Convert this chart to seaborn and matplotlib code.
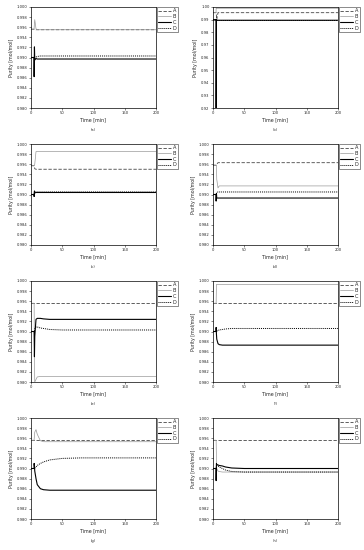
import numpy as np
import pandas as pd
import matplotlib
matplotlib.use("Agg")
import matplotlib.pyplot as plt
import seaborn as sns

# time grid [min] shared by every panel
t = [0, 4.9, 5, 5.5, 6, 8, 10, 15, 20, 30, 50, 80, 200]

# (a)
a_A = [0.9956, 0.9956, 0.9956, 0.9956, 0.9956, 0.9955, 0.9955, 0.9955, 0.9955, 0.9955, 0.9955, 0.9955, 0.9955]
a_B = [0.9956, 0.9956, 0.9958, 0.9968, 0.9975, 0.9957, 0.9955, 0.9955, 0.9955, 0.9955, 0.9955, 0.9955, 0.9955]
a_C = [0.9900, 0.9900, 0.9862, 0.9921, 0.9895, 0.9898, 0.9897, 0.9897, 0.9897, 0.9897, 0.9897, 0.9897, 0.9897]
a_D = [0.9900, 0.9900, 0.9900, 0.9902, 0.9902, 0.9901, 0.9902, 0.9903, 0.9903, 0.9903, 0.9903, 0.9903, 0.9903]
# (b)
b_A = [0.9955, 0.9955, 0.9955, 0.9930, 0.9900, 0.9955, 0.9955, 0.9955, 0.9955, 0.9955, 0.9955, 0.9955, 0.9955]
b_B = [0.9955, 0.9955, 0.9990, 0.9990, 0.9990, 0.9990, 0.9990, 0.9990, 0.9990, 0.9990, 0.9990, 0.9990, 0.9990]
b_C = [0.9900, 0.9900, 0.9200, 0.9900, 0.9895, 0.9895, 0.9895, 0.9895, 0.9895, 0.9895, 0.9895, 0.9895, 0.9895]
b_D = [0.9900, 0.9900, 0.9900, 0.9900, 0.9900, 0.9900, 0.9900, 0.9900, 0.9900, 0.9900, 0.9900, 0.9900, 0.9900]
# (c)
c_A = [0.9957, 0.9957, 0.9957, 0.9955, 0.9951, 0.9950, 0.9950, 0.9950, 0.9950, 0.9950, 0.9950, 0.9950, 0.9950]
c_B = [0.9957, 0.9957, 0.9957, 0.9958, 0.9960, 0.9985, 0.9985, 0.9985, 0.9985, 0.9985, 0.9985, 0.9985, 0.9985]
c_C = [0.9900, 0.9900, 0.9896, 0.9907, 0.9903, 0.9904, 0.9904, 0.9904, 0.9904, 0.9904, 0.9904, 0.9904, 0.9904]
c_D = [0.9900, 0.9900, 0.9902, 0.9905, 0.9905, 0.9905, 0.9905, 0.9905, 0.9905, 0.9905, 0.9905, 0.9905, 0.9905]
# (d)
d_A = [0.9958, 0.9958, 0.9958, 0.9958, 0.9960, 0.9963, 0.9963, 0.9963, 0.9963, 0.9963, 0.9963, 0.9963, 0.9963]
d_B = [0.9958, 0.9958, 0.9958, 0.9958, 0.9930, 0.9913, 0.9917, 0.9917, 0.9917, 0.9917, 0.9917, 0.9917, 0.9917]
d_C = [0.9900, 0.9900, 0.9887, 0.9902, 0.9893, 0.9893, 0.9893, 0.9893, 0.9893, 0.9893, 0.9893, 0.9893, 0.9893]
d_D = [0.9900, 0.9900, 0.9900, 0.9902, 0.9904, 0.9905, 0.9905, 0.9905, 0.9905, 0.9905, 0.9905, 0.9905, 0.9905]
# (e)
e_A = [0.9956, 0.9956, 0.9956, 0.9956, 0.9956, 0.9956, 0.9956, 0.9956, 0.9956, 0.9956, 0.9956, 0.9956, 0.9956]
e_B = [0.9956, 0.9956, 0.9956, 0.9850, 0.9800, 0.9805, 0.9810, 0.9811, 0.9811, 0.9811, 0.9811, 0.9811, 0.9811]
e_C = [0.9900, 0.9900, 0.9900, 0.9850, 0.9890, 0.9924, 0.9926, 0.9926, 0.9925, 0.9924, 0.9924, 0.9924, 0.9924]
e_D = [0.9900, 0.9900, 0.9900, 0.9900, 0.9905, 0.9909, 0.9909, 0.9907, 0.9906, 0.9904, 0.9903, 0.9903, 0.9903]
# (f)
f_A = [0.9956, 0.9956, 0.9956, 0.9956, 0.9956, 0.9956, 0.9956, 0.9956, 0.9956, 0.9956, 0.9956, 0.9956, 0.9956]
f_B = [0.9956, 0.9956, 0.9956, 0.9993, 0.9993, 0.9993, 0.9993, 0.9993, 0.9993, 0.9993, 0.9993, 0.9993, 0.9993]
f_C = [0.9900, 0.9900, 0.9908, 0.9895, 0.9885, 0.9876, 0.9874, 0.9873, 0.9873, 0.9873, 0.9873, 0.9873, 0.9873]
f_D = [0.9900, 0.9900, 0.9900, 0.9900, 0.9901, 0.9902, 0.9903, 0.9904, 0.9905, 0.9906, 0.9906, 0.9906, 0.9906]
# (g)
g_A = [0.9956, 0.9956, 0.9956, 0.9956, 0.9956, 0.9956, 0.9956, 0.9956, 0.9956, 0.9956, 0.9956, 0.9956, 0.9956]
g_B = [0.9956, 0.9956, 0.9957, 0.9965, 0.9972, 0.9977, 0.9968, 0.9955, 0.9953, 0.9953, 0.9953, 0.9953, 0.9953]
g_C = [0.9900, 0.9900, 0.9910, 0.9905, 0.9895, 0.9880, 0.9868, 0.9860, 0.9858, 0.9857, 0.9857, 0.9857, 0.9857]
g_D = [0.9900, 0.9900, 0.9900, 0.9900, 0.9901, 0.9903, 0.9906, 0.9910, 0.9913, 0.9917, 0.9920, 0.9921, 0.9921]
# (h)
h_A = [0.9956, 0.9956, 0.9956, 0.9956, 0.9956, 0.9956, 0.9956, 0.9956, 0.9956, 0.9956, 0.9956, 0.9956, 0.9956]
h_B = [0.9956, 0.9956, 0.9956, 0.9920, 0.9900, 0.9895, 0.9894, 0.9893, 0.9893, 0.9893, 0.9893, 0.9893, 0.9893]
h_C = [0.9900, 0.9900, 0.9876, 0.9910, 0.9908, 0.9907, 0.9906, 0.9905, 0.9903, 0.9901, 0.9900, 0.9900, 0.9900]
h_D = [0.9900, 0.9900, 0.9900, 0.9905, 0.9906, 0.9905, 0.9903, 0.9900, 0.9897, 0.9894, 0.9893, 0.9893, 0.9893]

panels = [
    ("(a)", [a_A, a_B, a_C, a_D]),
    ("(b)", [b_A, b_B, b_C, b_D]),
    ("(c)", [c_A, c_B, c_C, c_D]),
    ("(d)", [d_A, d_B, d_C, d_D]),
    ("(e)", [e_A, e_B, e_C, e_D]),
    ("(f)", [f_A, f_B, f_C, f_D]),
    ("(g)", [g_A, g_B, g_C, g_D]),
    ("(h)", [h_A, h_B, h_C, h_D]),
]
names = ["A", "B", "C", "D"]
styles = {
    "A": dict(color="#444444", linestyle=(0, (4, 2)), linewidth=0.6),
    "B": dict(color="#9a9a9a", linestyle="-", linewidth=0.5),
    "C": dict(color="black", linestyle="-", linewidth=0.8),
    "D": dict(color="black", linestyle=(0, (1, 1)), linewidth=0.7),
}

sns.set_style("ticks")
plt.rcParams["font.family"] = ["DejaVu Sans"]

W, H = 364, 550
fig = plt.figure(figsize=(W / 100, H / 100), dpi=100)
fig.patch.set_facecolor("white")

for i, (cap, series) in enumerate(panels):
    row, col = divmod(i, 2)
    x0 = col * 182 + 31
    y0 = row * 137 + 7
    ax = fig.add_axes([x0 / W, 1 - (y0 + 101) / H, 125 / W, 101 / H])

    for name, vals in zip(names, series):
        sns.lineplot(x=t, y=vals, ax=ax, label=name, **styles[name])

    ax.set_xlim(0, 200)
    ax.set_xticks([0, 50, 100, 150, 200])
    if cap == "(b)":
        ax.set_ylim(0.92, 1.00)
        ax.set_yticks(np.arange(0.92, 1.0001, 0.01))
        ax.yaxis.set_major_formatter(matplotlib.ticker.FormatStrFormatter("%.2f"))
    else:
        ax.set_ylim(0.980, 1.000)
        ax.set_yticks(np.arange(0.980, 1.0001, 0.002))
        ax.yaxis.set_major_formatter(matplotlib.ticker.FormatStrFormatter("%.3f"))

    ax.tick_params(labelsize=2.7, length=1.5, width=0.4, pad=1)
    for s in ax.spines.values():
        s.set_linewidth(0.5)
        s.set_color("black")
        s.set_visible(True)
    ax.set_xlabel("Time [min]", fontsize=3.4, labelpad=1.5)
    ax.set_ylabel("Purity [mol/mol]", fontsize=3.4, labelpad=2)

    leg = ax.legend(loc="upper left", bbox_to_anchor=(1.005, 1.0), fontsize=3.6,
                    frameon=True, fancybox=False, edgecolor="black",
                    borderpad=0.25, labelspacing=0.15, handlelength=2.6,
                    handletextpad=0.4, borderaxespad=0)
    leg.get_frame().set_linewidth(0.4)

    fig.text((x0 + 62.5) / W, 1 - (row * 137 + 130) / H, cap,
             fontsize=2.6, ha="center", va="center")

fig.savefig("out.png", dpi=100, facecolor="white")
